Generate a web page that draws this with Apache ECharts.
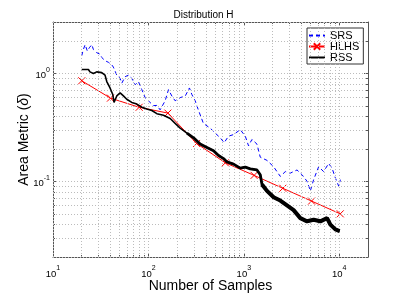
<!DOCTYPE html>
<html><head><meta charset="utf-8">
<script src="https://cdn.jsdelivr.net/npm/echarts@6/dist/echarts.min.js"></script>
<style>html,body{margin:0;padding:0;background:#fff}#c{width:407px;height:298px}</style>
</head><body><div id="c"></div>
<script>
const titleText = 'Distribution H';
const xName = 'Number of Samples';
const yNameRich = 'Area Metric ({i|δ})';
const seriesNames = ['SRS', 'HLHS', 'RSS'];

const xMajorTicks = [10, 100, 1000, 10000];
const xMinorTicks = [20,30,40,50,60,70,80,90,200,300,400,500,600,700,800,900,2000,3000,4000,5000,6000,7000,8000,9000];
const yMajorTicks = [0.1, 1];
const yMinorTicks = [0.02,0.03,0.04,0.05,0.06,0.07,0.08,0.09,0.2,0.3,0.4,0.5,0.6,0.7,0.8,0.9,2,3];

const srsN = [20,20.8,21.7,22.9,24.0,25.5,26.5,27.6,28.7,31.1,32.4,35.1,38.1,41.3,42.9,46.6,50.5,52.6,57.0,61.7,66.9,72.5,78.5,85.3,92.3,100,112.8,122.5,132.6,138.2,149.7,162.2,176.1,190.6,215,243,269,285,309,335,377,444,501,565,622,691,780,917,1035,1120,1216,1372,1486,1748,2051,2409,2719,3068,3606,4071,4592,4977,5385,6080,6857,7739,8406,9100,9856,10280];
const srsV = [1.46,1.67,1.85,1.615,1.73,1.85,1.67,1.73,1.56,1.51,1.41,1.315,1.27,1.203,1.148,0.966,0.902,0.814,0.934,0.966,0.902,0.786,0.843,0.709,0.598,0.559,0.504,0.507,0.461,0.455,0.559,0.709,0.619,0.559,0.598,0.619,0.735,0.64,0.559,0.455,0.345,0.312,0.281,0.254,0.229,0.263,0.272,0.302,0.263,0.214,0.2455,0.222,0.168,0.157,0.137,0.1115,0.1236,0.1196,0.128,0.1155,0.1006,0.0819,0.104,0.137,0.1236,0.147,0.1325,0.108,0.0908,0.104];

const hlhsN = [20,40,80,160,320,640,1280,2560,5120,10240];
const hlhsV = [0.857,0.592,0.487,0.43,0.225,0.149,0.114,0.0866,0.0659,0.0502];

const rssN = [20,23.5,24.4,26.5,28.7,32.4,35.1,36.6,39.6,42.3,43.6,46.6,50.5,54.7,59.3,66.9,75.6,85.3,96.2,108.6,122.5,143.7,169,190.6,215,253,297,349,410,481,543,613,665,780,917,1035,1167,1372,1486,1549,1748,2051,2409,2831,3323,3906,4592,5385,6334,7446,8065,9100,10090];
const rssV = [1.09,1.09,1.036,1.0,1.036,1.02,0.966,0.843,0.735,0.64,0.54,0.62,0.663,0.62,0.578,0.54,0.521,0.487,0.47,0.455,0.425,0.41,0.383,0.345,0.312,0.281,0.254,0.222,0.207,0.193,0.174,0.163,0.152,0.145,0.133,0.136,0.131,0.128,0.1155,0.094,0.0819,0.0715,0.0667,0.0602,0.0543,0.0458,0.0428,0.0442,0.0428,0.0458,0.0399,0.036,0.0348];

const FONT = 'Liberation Sans, Arial, Helvetica, sans-serif';
const pairs = (a, b) => a.map((v, i) => [v, b[i]]);
const expLabel = v => {
  const e = Math.round(Math.log10(v));
  if (Math.abs(Math.log10(v) - e) > 1e-6) return '';
  return '{b|10}{s|' + e + '}';
};
const rich = {
  b: {fontSize: 9.5, color: '#000', fontFamily: FONT, lineHeight: 14, verticalAlign: 'bottom'},
  s: {fontSize: 7, color: '#000', fontFamily: FONT, lineHeight: 7, verticalAlign: 'top'}
};
const axisCol = '#555';
const xBase = {type: 'log', logBase: 10, min: 10, max: 20000, splitLine: {show: false}};
const yBase = {type: 'log', logBase: 10, min: 0.02, max: 3, splitLine: {show: false}};
const majorTick = vals => ({show: true, inside: true, length: 4, customValues: vals, lineStyle: {color: axisCol, width: 1}});
const minorTick = vals => ({show: true, inside: true, length: 2, customValues: vals, lineStyle: {color: axisCol, width: 1}});
const hiddenSym = {color: 'rgba(0,0,0,0)', borderWidth: 0};

const gridLines = [].concat(
  xMajorTicks.concat(xMinorTicks).map(v => ({xAxis: v})),
  yMajorTicks.concat(yMinorTicks).map(v => ({yAxis: v}))
);

const chart = echarts.init(document.getElementById('c'), null, {renderer: 'canvas'});
chart.setOption({
  animation: false,
  backgroundColor: '#fff',
  textStyle: {fontFamily: FONT},
  title: {text: titleText, left: 'center', top: 5, textStyle: {fontSize: 10, fontWeight: 'normal', color: '#000', fontFamily: FONT}},
  grid: {left: 53, right: 39, top: 22, bottom: 33, containLabel: false},
  legend: {
    data: seriesNames, orient: 'vertical', left: 307, top: 28,
    itemWidth: 16, itemHeight: 8, itemGap: 0, padding: [2, 4, 1, 1],
    borderColor: '#333', borderWidth: 1, backgroundColor: '#fff',
    textStyle: {fontSize: 11, color: '#000', fontFamily: FONT, lineHeight: 11}
  },
  xAxis: [
    Object.assign({}, xBase, {position: 'bottom', axisLine: {show: true, lineStyle: {color: axisCol}}, axisTick: majorTick(xMajorTicks),
      axisLabel: {customValues: xMajorTicks, formatter: expLabel, rich: rich, margin: 8},
      name: xName, nameLocation: 'middle', nameGap: 22, nameMoveOverlap: false, nameTextStyle: {fontSize: 14, color: '#000', fontFamily: FONT}}),
    Object.assign({}, xBase, {position: 'bottom', axisLine: {show: false}, axisTick: minorTick(xMinorTicks), axisLabel: {show: false}}),
    Object.assign({}, xBase, {position: 'top', axisLine: {show: true, lineStyle: {color: axisCol}}, axisTick: majorTick(xMajorTicks), axisLabel: {show: false}}),
    Object.assign({}, xBase, {position: 'top', axisLine: {show: false}, axisTick: minorTick(xMinorTicks), axisLabel: {show: false}})
  ],
  yAxis: [
    Object.assign({}, yBase, {position: 'left', axisLine: {show: true, lineStyle: {color: axisCol}}, axisTick: majorTick(yMajorTicks),
      axisLabel: {customValues: yMajorTicks, formatter: expLabel, rich: rich, margin: 3},
      name: yNameRich, nameLocation: 'middle', nameGap: 22, nameMoveOverlap: false,
      nameTextStyle: {fontSize: 14, color: '#000', fontFamily: FONT, rich: {i: {fontStyle: 'italic', fontSize: 14, color: '#000', fontFamily: FONT}}}}),
    Object.assign({}, yBase, {position: 'left', axisLine: {show: false}, axisTick: minorTick(yMinorTicks), axisLabel: {show: false}}),
    Object.assign({}, yBase, {position: 'right', axisLine: {show: true, lineStyle: {color: axisCol}}, axisTick: majorTick(yMajorTicks), axisLabel: {show: false}}),
    Object.assign({}, yBase, {position: 'right', axisLine: {show: false}, axisTick: minorTick(yMinorTicks), axisLabel: {show: false}})
  ],
  series: [
    {type: 'line', name: 'grid', data: [], z: 1, silent: true, symbol: 'none',
      markLine: {silent: true, symbol: ['none', 'none'], label: {show: false}, animation: false,
        lineStyle: {type: [1, 2], color: '#bcbcbc', width: 1}, emphasis: {disabled: true}, data: gridLines}},
    {type: 'line', name: 'SRS', data: pairs(srsN, srsV), symbol: 'circle', showSymbol: false, z: 3,
      lineStyle: {color: '#0000ff', width: 1, type: [4, 3]}, itemStyle: hiddenSym},
    {type: 'line', name: 'HLHS', data: pairs(hlhsN, hlhsV), symbol: 'path://M0 0L10 10M10 0L0 10', symbolSize: 7, z: 4,
      lineStyle: {color: '#ff0000', width: 1}, itemStyle: {color: '#ff0000', borderColor: '#ff0000', borderWidth: 1}},
    {type: 'line', name: 'RSS', data: pairs(rssN, rssV), symbol: 'circle', showSymbol: false, z: 5,
      lineStyle: {color: '#000', width: 1.6}, itemStyle: hiddenSym},
    {type: 'line', name: 'RSS band a', data: pairs(rssN, rssV).filter(p => p[0] >= 250), symbol: 'none', showSymbol: false, z: 5,
      lineStyle: {color: '#000', width: 2.8}},
    {type: 'line', name: 'RSS band b', data: pairs(rssN, rssV).filter(p => p[0] >= 1500), symbol: 'none', showSymbol: false, z: 5,
      lineStyle: {color: '#000', width: 4}}
  ]
});
</script></body></html>
